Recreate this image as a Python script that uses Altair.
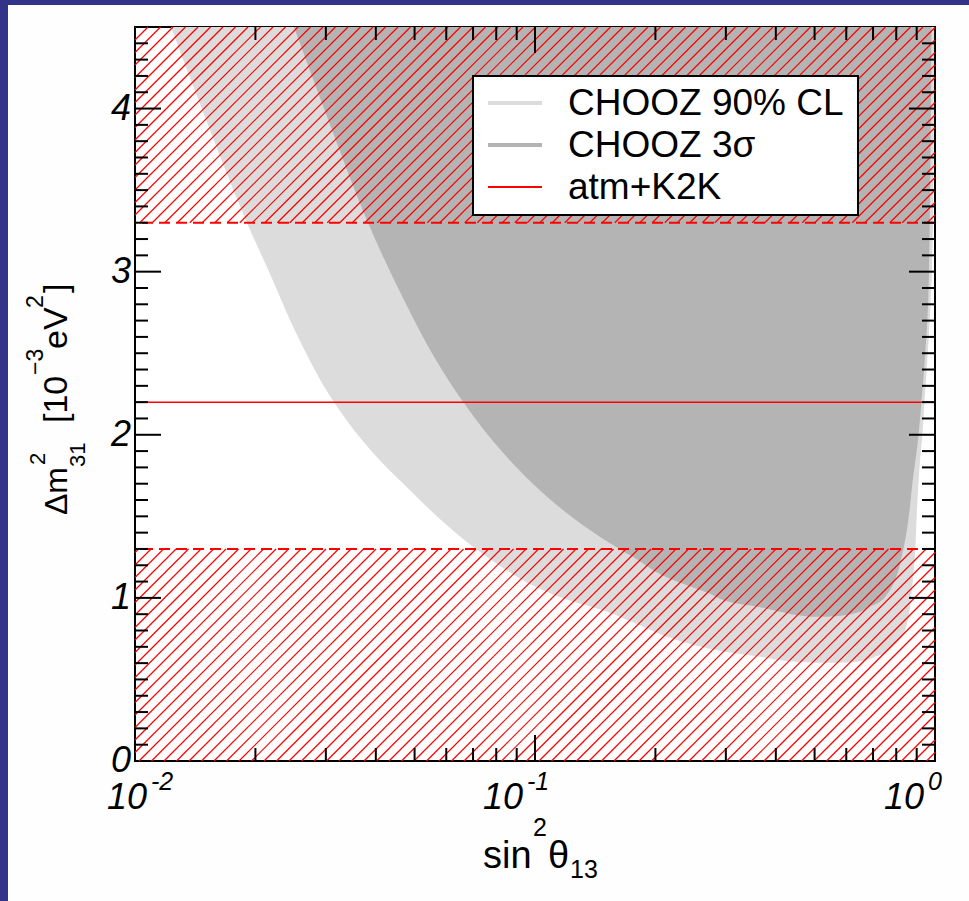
import altair as alt
import numpy as np
import pandas as pd

# plot-area size in pixels and axis ranges
W, H = 800, 734
XMIN, XMAX = 0.01, 1.0
YMIN, YMAX = 0.0, 4.5

# atm+K2K: best fit and allowed band of Δm²31 [1e-3 eV²]
atm_best = 2.2
atm_band = [1.3, 3.3]

# CHOOZ 90% CL excluded region: for each Δm² level, left/right sin²θ13 edges
cl90_dm2 = [0.603, 0.606, 0.615, 0.635, 0.66, 0.70, 0.76, 0.84, 0.925, 0.99, 1.07, 1.17,
            1.30, 1.478, 1.66, 1.85, 1.97, 2.20, 2.60, 3.00, 3.30, 3.90, 4.50]
cl90_left = [0.50, 0.465, 0.42, 0.375, 0.316, 0.26, 0.215, 0.18, 0.147, 0.12, 0.10, 0.085,
             0.0712, 0.0582, 0.0487, 0.0407, 0.0369, 0.03145, 0.02556, 0.02163, 0.01905, 0.01522, 0.0123]
cl90_right = [0.58, 0.62, 0.66, 0.70, 0.75, 0.785, 0.827, 0.85, 0.864, 0.870, 0.877, 0.885,
              0.893, 0.899, 0.907, 0.918, 0.928, 0.941, 0.965, 0.982, 0.988, 0.993, 0.995]

# CHOOZ 3σ excluded region
s3_dm2 = [0.885, 0.89, 0.91, 0.94, 0.968, 1.03, 1.128, 1.25, 1.374, 1.52, 1.705, 1.968,
          2.202, 2.459, 2.826, 3.30, 3.899, 4.50]
s3_left = [0.49, 0.465, 0.42, 0.37, 0.316, 0.271, 0.2127, 0.176, 0.1454, 0.120, 0.0983, 0.0781,
           0.0661, 0.05655, 0.04704, 0.03824, 0.03075, 0.02497]
s3_right = [0.54, 0.58, 0.64, 0.68, 0.72, 0.763, 0.80, 0.825, 0.845, 0.862, 0.878, 0.907,
            0.925, 0.943, 0.962, 0.97, 0.976, 0.98]

legend_labels = ["CHOOZ 90% CL", "CHOOZ 3σ", "atm+K2K"]
y_tick_values = [0, 1, 2, 3, 4]
y_tick_labels = ["0", "1", "2", "3", "4"]
x_tick_values = [0.01, 0.1, 1.0]
x_tick_exponents = ["-2", "-1", "0"]

LIGHT = "#dcdcdc"
DARK = "#b4b4b4"
RED = "#ff0000"
NAVY = "#333388"
PAPER = "#fefefe"
FONT = "Liberation Sans"

xs = alt.Scale(type="log", domain=[XMIN, XMAX], nice=False)
ys = alt.Scale(domain=[YMIN, YMAX], nice=False, zero=False)


def X(field):
    return alt.X(field, type="quantitative", scale=xs, axis=None)


def Y(field):
    return alt.Y(field, type="quantitative", scale=ys, axis=None)


one = pd.DataFrame({"k": [0]})

# excluded regions as horizontal areas (x from left edge to right edge at each Δm²)
cl90 = pd.DataFrame({"v": cl90_dm2, "lo": cl90_left, "hi": cl90_right})
s3 = pd.DataFrame({"v": s3_dm2, "lo": s3_left, "hi": s3_right})
area90 = alt.Chart(cl90).mark_area(orient="horizontal", color=LIGHT, clip=True,
                                   interpolate="monotone").encode(
    y=Y("v"), x=X("lo"), x2="hi")
area3s = alt.Chart(s3).mark_area(orient="horizontal", color=DARK, clip=True,
                                 interpolate="monotone").encode(
    y=Y("v"), x=X("lo"), x2="hi")

# diagonal hatching outside the atm+K2K band
SPACING = 12.5
PHASE = 4.0


def hatch(v0, v1):
    y0, y1 = v0 * H / YMAX, v1 * H / YMAX
    rows = []
    c = PHASE - SPACING * np.ceil((y1 + PHASE) / SPACING)
    while c < W - y0:
        lo, hi = max(y0, -c), min(y1, W - c)
        if lo < hi:
            rows.append({
                "xa": 10 ** ((c + lo) / W * 2 - 2), "va": lo * YMAX / H,
                "xb": 10 ** ((c + hi) / W * 2 - 2), "vb": hi * YMAX / H,
            })
        c += SPACING
    return rows


hatch_df = pd.DataFrame(hatch(YMIN, atm_band[0]) + hatch(atm_band[1], YMAX))
hatching = alt.Chart(hatch_df).mark_rule(color=RED, strokeWidth=1.2).encode(
    x=X("xa"), x2="xb", y=Y("va"), y2="vb")

band_edges = alt.Chart(pd.DataFrame({"v": atm_band})).mark_rule(
    color=RED, strokeWidth=2, strokeDash=[11, 6]).encode(y=Y("v"))
best_fit = alt.Chart(pd.DataFrame({"v": [atm_best]})).mark_rule(
    color=RED, strokeWidth=1.5).encode(y=Y("v"))

# inward ticks on all four sides
y_minor = [round(0.1 * i, 1) for i in range(1, 45) if i % 10]
y_major = [1.0, 2.0, 3.0, 4.0]
x_minor = [m * d for d in (0.01, 0.1) for m in range(2, 10)]
x_major = [0.1]

tick_layers = []
for vals, ln in ((y_minor, 13), (y_major, 26)):
    d = pd.DataFrame({"v": vals})
    tick_layers.append(alt.Chart(d).mark_rule(color="black", strokeWidth=2).encode(
        y=Y("v"), x=alt.value(0), x2=alt.value(ln)))
    tick_layers.append(alt.Chart(d).mark_rule(color="black", strokeWidth=2).encode(
        y=Y("v"), x=alt.value(W), x2=alt.value(W - ln)))
for vals, ln in ((x_minor, 13), (x_major, 26)):
    d = pd.DataFrame({"x": vals})
    tick_layers.append(alt.Chart(d).mark_rule(color="black", strokeWidth=2).encode(
        x=X("x"), y=alt.value(0), y2=alt.value(ln)))
    tick_layers.append(alt.Chart(d).mark_rule(color="black", strokeWidth=2).encode(
        x=X("x"), y=alt.value(H), y2=alt.value(H - ln)))

# tick labels
ylab = alt.Chart(pd.DataFrame({"v": y_tick_values, "t": y_tick_labels})).mark_text(
    align="right", baseline="middle", font=FONT, fontSize=36, fontStyle="italic", dx=-4
).encode(y=Y("v"), x=alt.value(0), text="t:N")

# "10" base and raised exponent of each decade label; per-label horizontal shift
x_label_shift = [-28, -52, -51]
xlab = []
for val, ex, sh in zip(x_tick_values, x_tick_exponents, x_label_shift):
    d = pd.DataFrame({"x": [val], "e": [ex]})
    xlab.append(alt.Chart(d).mark_text(
        align="left", baseline="alphabetic", font=FONT, fontSize=36, fontStyle="italic", dx=sh
    ).encode(x=X("x"), y=alt.value(H + 48), text=alt.value("10")))
    xlab.append(alt.Chart(d).mark_text(
        align="left", baseline="alphabetic", font=FONT, fontSize=25, fontStyle="italic", dx=sh + 44
    ).encode(x=X("x"), y=alt.value(H + 29), text="e:N"))


def txt(s, x, y, size=36, angle=0):
    return alt.Chart(one).mark_text(
        text=s, font=FONT, fontSize=size, align="left", baseline="alphabetic", angle=angle
    ).encode(x=alt.value(x), y=alt.value(y))


# x-axis title: sin²θ13
x_title = [
    txt("sin", 348, H + 107, 38),
    txt("2", 398, H + 75, 25),
    txt("θ", 413, H + 107, 38),
    txt("13", 435, H + 117, 25),
]

# y-axis title: Δm²31 [10⁻³eV²], reading upwards
y_title = [
    txt("Δm", -68, 488, 32, 270),
    txt("2", -90, 438, 22, 270),
    txt("31", -50, 440, 22, 270),
    txt("[10", -68, 396, 34, 270),
    txt("−3", -92, 348, 23, 270),
    txt("eV", -68, 322, 34, 270),
    txt("2", -92, 281, 23, 270),
    txt("]", -68, 266, 34, 270),
]

# legend box
LX0, LX1, LY0, LY1 = 338, 723, 49, 188
legend = [alt.Chart(one).mark_rect(fill="white", stroke="black", strokeWidth=2).encode(
    x=alt.value(LX0), x2=alt.value(LX1), y=alt.value(LY0), y2=alt.value(LY1))]
for i, (lab, col, sw) in enumerate(zip(legend_labels, [LIGHT, DARK, RED], [4, 4, 2])):
    yy = 76 + 42 * i
    legend.append(alt.Chart(one).mark_rule(color=col, strokeWidth=sw).encode(
        x=alt.value(353), x2=alt.value(407), y=alt.value(yy)))
    legend.append(alt.Chart(one).mark_text(
        text=lab, font=FONT, fontSize=37, align="left", baseline="middle"
    ).encode(x=alt.value(433), y=alt.value(yy + 1)))

# navy strips along the top and left edges
page = [
    alt.Chart(one).mark_rect(color=NAVY).encode(
        x=alt.value(-135), x2=alt.value(-127), y=alt.value(-27), y2=alt.value(H + 140)),
    alt.Chart(one).mark_rect(color=NAVY).encode(
        x=alt.value(-135), x2=alt.value(W + 34), y=alt.value(-27), y2=alt.value(-22)),
]

chart = alt.layer(
    *page, area90, area3s, hatching, band_edges, best_fit, *tick_layers,
    ylab, *xlab, *x_title, *y_title, *legend
).properties(
    width=W, height=H,
    autosize=alt.AutoSizeParams(type="none"),
    padding={"left": 135, "top": 27, "right": 34, "bottom": 140},
    background=PAPER,
).configure_view(stroke="black", strokeWidth=2, fill="white")

chart.save("out.html", embed_options={"renderer": "svg", "actions": False})
